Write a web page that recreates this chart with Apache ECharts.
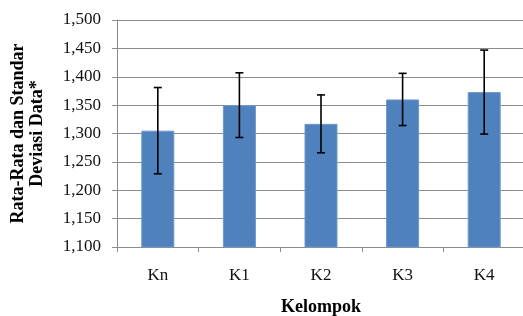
<!DOCTYPE html>
<html>
<head>
    <meta charset="utf-8">
    <title>Kelompok</title>
    <script src="https://cdn.jsdelivr.net/npm/echarts@6/dist/echarts.min.js"></script>
    <style>
        html, body { margin: 0; padding: 0; background: #fff; }
        #chart { width: 523px; height: 316px; }
    </style>
</head>
<body>
    <div id="chart"></div>
    <script>
        var categories = ['Kn', 'K1', 'K2', 'K3', 'K4'];
        var means = [1305, 1350, 1317, 1360, 1373];
        var sds = [76, 57, 51, 46, 74];
        var yTicks = { min: 1100, max: 1500, step: 50 };

        // error bar data: [index, low, high]
        var errData = [];
        for (var i = 0; i < categories.length; i++) {
            errData.push([i, means[i] - sds[i], means[i] + sds[i]]);
        }

        var chart = echarts.init(document.getElementById('chart'));
        var serif = '"Liberation Serif", "DejaVu Serif", serif';

        var option = {
            animation: false,
            grid: { left: 117, top: 20, bottom: 69, width: 408, outerBoundsMode: 'none', containLabel: false },
            xAxis: {
                type: 'category',
                data: categories,
                name: 'Kelompok',
                nameLocation: 'middle',
                nameGap: 51,
                nameTextStyle: { fontFamily: serif, fontSize: 18, fontWeight: 'bold', color: '#000' },
                axisLine: { lineStyle: { color: '#8c8c8c' } },
                axisTick: { show: true, length: 5, lineStyle: { color: '#8c8c8c' } },
                axisLabel: { margin: 20, fontFamily: serif, fontSize: 17, color: '#111' }
            },
            yAxis: {
                type: 'value',
                min: yTicks.min,
                max: yTicks.max,
                interval: yTicks.step,
                name: 'Rata-Rata dan Standar\nDeviasi Data*',
                nameLocation: 'middle',
                nameGap: 70,
                nameTextStyle: { fontFamily: serif, fontSize: 18, fontWeight: 'bold', color: '#000', lineHeight: 19 },
                axisLine: { show: true, lineStyle: { color: '#8c8c8c' } },
                axisTick: { show: true, length: 5, lineStyle: { color: '#8c8c8c' } },
                splitLine: { lineStyle: { color: '#8c8c8c' } },
                axisLabel: {
                    margin: 16,
                    fontFamily: serif,
                    fontSize: 17,
                    color: '#111',
                    formatter: function (v) {
                        var s = String(v);
                        return s.length > 3 ? s.slice(0, s.length - 3) + ',' + s.slice(-3) : s;
                    }
                }
            },
            series: [
                {
                    type: 'bar',
                    data: means,
                    barWidth: 33,
                    itemStyle: { color: '#4f81bd', borderColor: '#6f97cb', borderWidth: 1 }
                },
                {
                    type: 'custom',
                    data: errData,
                    z: 10,
                    renderItem: function (params, api) {
                        var lo = api.coord([api.value(0), api.value(1)]);
                        var hi = api.coord([api.value(0), api.value(2)]);
                        var cap = 4;
                        var style = { stroke: '#000', lineWidth: 1.6 };
                        return {
                            type: 'group',
                            children: [
                                { type: 'line', shape: { x1: hi[0], y1: hi[1], x2: lo[0], y2: lo[1] }, style: style },
                                { type: 'line', shape: { x1: hi[0] - cap, y1: hi[1], x2: hi[0] + cap, y2: hi[1] }, style: style },
                                { type: 'line', shape: { x1: lo[0] - cap, y1: lo[1], x2: lo[0] + cap, y2: lo[1] }, style: style }
                            ]
                        };
                    }
                }
            ]
        };
        chart.setOption(option);

        window.onresize = function () {
            chart.resize();
        };
    </script>
</body>
</html>
